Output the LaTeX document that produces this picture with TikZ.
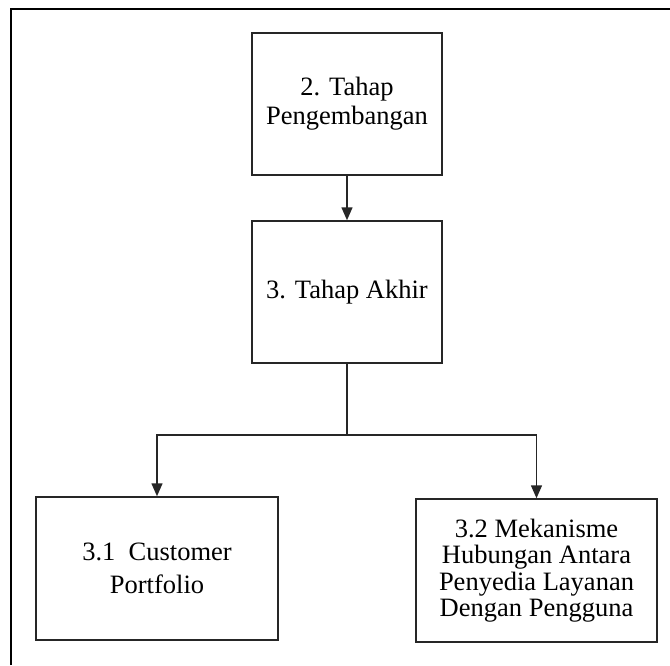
\documentclass[tikz,border=0pt]{standalone}
\usepackage{fontspec}
\setmainfont{Liberation Serif}
\usepackage{tikz}
\usetikzlibrary{arrows.meta}

\tikzset{
    stagebox/.style = {draw = black!85, line width = 1.5pt, align = center,
        inner sep = 0pt, font = \fontsize{26.5}{29}\selectfont},
    flowarrow/.style = {draw = black!85, line width = 1.5pt,
        -{Triangle[length = 13pt, width = 11pt]}}
}

\begin{document}
\begin{tikzpicture}[x = 1pt, y = -1pt]
    \useasboundingbox (0, 0) rectangle (670, 665);
    \fill [white] (0, 0) rectangle (670, 665);
    \draw [line width = 2.5pt] (11, 665) -- (11, 9) -- (670, 9);
    \node [stagebox, minimum width = 190, minimum height = 142] (tahap2) at (347, 104) {2. Tahap\\Pengembangan};
    \node [stagebox, minimum width = 190, minimum height = 142] (tahap3) at (347, 292) {3. Tahap Akhir};
    \node [stagebox, minimum width = 242, minimum height = 143,
        font = \fontsize{26.5}{33}\selectfont] (portfolio) at (157, 568.5) {3.1\ \ Customer\\Portfolio};
    \node [stagebox, minimum width = 241, minimum height = 143,
        font = \fontsize{26.5}{26.5}\selectfont] (mekanisme) at (536.5, 570.5) {3.2 Mekanisme\\Hubungan Antara\\Penyedia Layanan\\Dengan Pengguna};
    \coordinate (cabang) at (347, 435);
    \draw [flowarrow] (tahap2) -- (tahap3);
    \draw [draw = black!85, line width = 1.5pt] (tahap3) -- (cabang);
    \draw [flowarrow] (cabang) -| (portfolio);
    \draw [flowarrow] (cabang) -| (mekanisme);
\end{tikzpicture}
\end{document}
